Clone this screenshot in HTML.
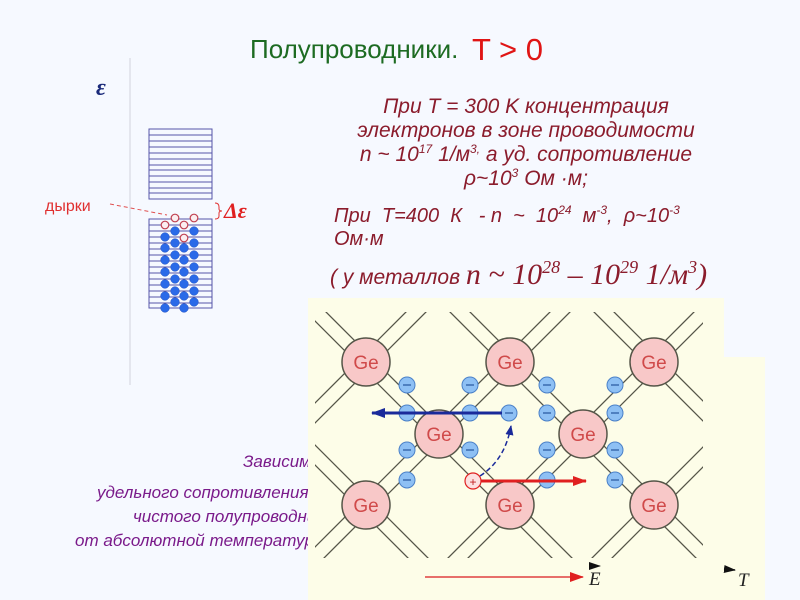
<!DOCTYPE html>
<html><head><meta charset="utf-8"><style>
html,body{margin:0;padding:0;width:800px;height:600px;overflow:hidden;}
body{background:#f6f9ff;position:relative;font-family:"Liberation Sans",sans-serif;}
svg{display:block}
</style></head><body>
<svg width="800" height="600" style="position:absolute;left:0;top:0" xmlns="http://www.w3.org/2000/svg">
<defs>
<clipPath id="lc"><rect x="315" y="312" width="388" height="246"/></clipPath>
<marker id="ab" markerWidth="10" markerHeight="8" refX="9" refY="4" orient="auto" markerUnits="userSpaceOnUse"><path d="M0,0 L10,4 L0,8 Z" fill="#1a2a9a"/></marker>
<marker id="ar" markerWidth="14" markerHeight="10" refX="13" refY="5" orient="auto" markerUnits="userSpaceOnUse"><path d="M0,0 L14,5 L0,10 Z" fill="#e02020"/></marker>
<marker id="ab2" markerWidth="14" markerHeight="10" refX="13" refY="5" orient="auto" markerUnits="userSpaceOnUse"><path d="M0,0 L14,5 L0,10 Z" fill="#1a2a9a"/></marker>
<marker id="abk" markerWidth="12" markerHeight="8" refX="11" refY="4" orient="auto" markerUnits="userSpaceOnUse"><path d="M0,0 L12,4 L0,8 Z" fill="#111"/></marker>
</defs>

<text x="250" y="58" font-size="26" fill="#1d6b22">Полупроводники.</text>
<text x="472" y="60" font-size="31" fill="#e01515">T &gt; 0</text>

<line x1="130" y1="58" x2="130" y2="385" stroke="#dde0e8" stroke-width="1.5"/>
<text x="96" y="95" font-family="Liberation Serif,serif" font-size="24" font-weight="bold" font-style="italic" fill="#1a2a7a">ε</text>

<g stroke="#5555aa" stroke-width="1" fill="none">
<rect x="149" y="129" width="63" height="70"/>
<path d="M149 135H212M149 141H212M149 147H212M149 153H212M149 159H212M149 165H212M149 170H212M149 176H212M149 182H212M149 188H212M149 193H212"/>
<rect x="149" y="219" width="63" height="89"/>
<path d="M149 225H212M149 231H212M149 237H212M149 243H212M149 249H212M149 255H212M149 261H212M149 267H212M149 273H212M149 279H212M149 285H212M149 291H212M149 297H212M149 303H212"/>
</g>
<g fill="#2a6ae8" stroke="#1a4ac0" stroke-width="0.5">
<circle cx="165" cy="237" r="4.3"/><circle cx="165" cy="248" r="4.3"/><circle cx="165" cy="260" r="4.3"/><circle cx="165" cy="272" r="4.3"/><circle cx="165" cy="284" r="4.3"/><circle cx="165" cy="296" r="4.3"/><circle cx="165" cy="308" r="4.3"/>
<circle cx="175" cy="231" r="4.3"/><circle cx="175" cy="243" r="4.3"/><circle cx="175" cy="255" r="4.3"/><circle cx="175" cy="267" r="4.3"/><circle cx="175" cy="279" r="4.3"/><circle cx="175" cy="291" r="4.3"/><circle cx="175" cy="302" r="4.3"/>
<circle cx="184" cy="248" r="4.3"/><circle cx="184" cy="260" r="4.3"/><circle cx="184" cy="272" r="4.3"/><circle cx="184" cy="284" r="4.3"/><circle cx="184" cy="296" r="4.3"/><circle cx="184" cy="308" r="4.3"/>
<circle cx="194" cy="231" r="4.3"/><circle cx="194" cy="243" r="4.3"/><circle cx="194" cy="255" r="4.3"/><circle cx="194" cy="267" r="4.3"/><circle cx="194" cy="279" r="4.3"/><circle cx="194" cy="291" r="4.3"/><circle cx="194" cy="302" r="4.3"/>
</g>
<g fill="#fbeef0" stroke="#c04050" stroke-width="1.2">
<circle cx="175" cy="218" r="3.8"/><circle cx="194" cy="218" r="3.8"/><circle cx="165" cy="225" r="3.8"/><circle cx="184" cy="225" r="3.8"/><circle cx="184" cy="238" r="3.8"/>
</g>
<text x="45" y="211" font-size="16" fill="#e03030">дырки</text>
<line x1="110" y1="204" x2="167" y2="215" stroke="#e05050" stroke-width="1" stroke-dasharray="4,3"/>
<path d="M215 203 Q219 203 219 207 L219 209 Q219 211 222 211 Q219 211 219 213 L219 216 Q219 219 215 219" fill="none" stroke="#e03030" stroke-width="1"/>
<text x="224" y="218" font-family="Liberation Serif,serif" font-size="22" font-weight="bold" font-style="italic" fill="#e02020">Δε</text>

<g font-size="21" font-style="italic" fill="#8b1c2c" text-anchor="middle">
<text x="526" y="113">При  T = 300 K концентрация</text>
<text x="526" y="137">электронов в зоне проводимости</text>
<text x="526" y="161">n ~ 10<tspan font-size="12" dy="-8">17</tspan><tspan dy="8"> 1/м</tspan><tspan font-size="12" dy="-8">3,</tspan><tspan dy="8"> а уд. сопротивление</tspan></text>
<text x="526" y="185">ρ~10<tspan font-size="12" dy="-8">3</tspan><tspan dy="8"> Ом ·м;</tspan></text>
</g>
<g font-size="20" font-style="italic" fill="#8b1c2c">
<text x="334" y="222" xml:space="preserve">При  T=400  К   - n  ~  10<tspan font-size="12" dy="-8">24</tspan><tspan dy="8">  м</tspan><tspan font-size="12" dy="-8">-3</tspan><tspan dy="8">,  ρ~10</tspan><tspan font-size="12" dy="-8">-3</tspan></text>
<text x="334" y="245">Ом·м</text>
<text x="330" y="284" font-size="21">( у металлов <tspan font-family="Liberation Serif,serif" font-size="30">n ~ 10</tspan><tspan font-family="Liberation Serif,serif" font-size="18" dy="-11">28</tspan><tspan font-family="Liberation Serif,serif" font-size="30" dy="11"> – 10</tspan><tspan font-family="Liberation Serif,serif" font-size="18" dy="-11">29</tspan><tspan font-family="Liberation Serif,serif" font-size="30" dy="11"> 1/м</tspan><tspan font-family="Liberation Serif,serif" font-size="18" dy="-11">3</tspan><tspan font-family="Liberation Serif,serif" font-size="30" dy="11">)</tspan></text>
</g>

<g font-size="17" font-style="italic" fill="#7a1a8a">
<text x="243" y="467">Зависимость</text>
<text x="97" y="498">удельного сопротивления</text>
<text x="133" y="522">чистого полупроводника</text>
<text x="75" y="546">от абсолютной температуры</text>
</g>

<path d="M308 298 H724 V357 H765 V600 H308 Z" fill="#fdfde8"/>

<g clip-path="url(#lc)" stroke="#555548" stroke-width="1.3" fill="none">
<path d="
M0 294 L800 1094 M0 274 L800 1074
M0 150 L800 950 M0 130 L800 930
M0 6 L800 806 M0 -14 L800 786
M0 -138 L800 662 M0 -158 L800 642
M0 -282 L800 518 M0 -302 L800 498
M0 -426 L800 374 M0 -446 L800 354
M0 574 L800 -226 M0 594 L800 -206
M0 718 L800 -82 M0 738 L800 -62
M0 862 L800 62 M0 882 L800 82
M0 1006 L800 206 M0 1026 L800 226
M0 1150 L800 350 M0 1170 L800 370
M0 1294 L800 494 M0 1314 L800 514"/>
</g>

<g fill="#f8c8c8" stroke="#555548" stroke-width="1.5">
<circle cx="366" cy="362" r="24"/><circle cx="510" cy="362" r="24"/><circle cx="654" cy="362" r="24"/>
<circle cx="439" cy="434" r="24"/><circle cx="583" cy="434" r="24"/>
<circle cx="366" cy="505" r="24"/><circle cx="510" cy="505" r="24"/><circle cx="654" cy="505" r="24"/>
</g>
<g font-size="19" fill="#d04a4a" text-anchor="middle">
<text x="366" y="369">Ge</text><text x="510" y="369">Ge</text><text x="654" y="369">Ge</text>
<text x="439" y="441">Ge</text><text x="583" y="441">Ge</text>
<text x="366" y="512">Ge</text><text x="510" y="512">Ge</text><text x="654" y="512">Ge</text>
</g>

<g fill="#8ec0f4" stroke="#4a80c8" stroke-width="1">
<circle cx="407" cy="385" r="8"/><circle cx="470" cy="385" r="8"/><circle cx="547" cy="385" r="8"/><circle cx="615" cy="385" r="8"/>
<circle cx="407" cy="413" r="8"/><circle cx="470" cy="413" r="8"/><circle cx="547" cy="413" r="8"/><circle cx="615" cy="413" r="8"/>
<circle cx="407" cy="450" r="8"/><circle cx="470" cy="450" r="8"/><circle cx="547" cy="450" r="8"/><circle cx="615" cy="450" r="8"/>
<circle cx="407" cy="480" r="8"/><circle cx="547" cy="480" r="8"/><circle cx="615" cy="480" r="8"/>
<circle cx="509" cy="413" r="8"/>
</g>
<g stroke="#2a5aa0" stroke-width="1.2">
<path d="M403 385h8M466 385h8M543 385h8M611 385h8M403 413h8M466 413h8M543 413h8M611 413h8M403 450h8M466 450h8M543 450h8M611 450h8M403 480h8M543 480h8M611 480h8M505 413h8"/>
</g>

<line x1="502" y1="413" x2="372" y2="413" stroke="#1a2a9a" stroke-width="3" marker-end="url(#ab2)"/>
<path d="M480 476 Q505 460 511 426" fill="none" stroke="#1a2a9a" stroke-width="1.5" stroke-dasharray="5,3" marker-end="url(#ab)"/>
<line x1="480" y1="481" x2="586" y2="481" stroke="#e02020" stroke-width="3" marker-end="url(#ar)"/>
<circle cx="473" cy="481" r="8" fill="#fce0e0" stroke="#e02020" stroke-width="1.2"/>
<text x="473" y="486" font-size="12" fill="#c02020" text-anchor="middle">+</text>
<line x1="425" y1="577" x2="583" y2="577" stroke="#e04040" stroke-width="1.5" marker-end="url(#ar)"/>
<text x="589" y="585" font-family="Liberation Serif,serif" font-size="19" font-style="italic" fill="#222">E</text>
<line x1="590" y1="566" x2="600" y2="566" stroke="#222" stroke-width="1" marker-end="url(#abk)"/>
<line x1="724" y1="569" x2="735" y2="570" stroke="#111" stroke-width="1.5" marker-end="url(#abk)"/>
<text x="738" y="586" font-family="Liberation Serif,serif" font-size="19" font-style="italic" fill="#222">T</text>
</svg>
</body></html>
